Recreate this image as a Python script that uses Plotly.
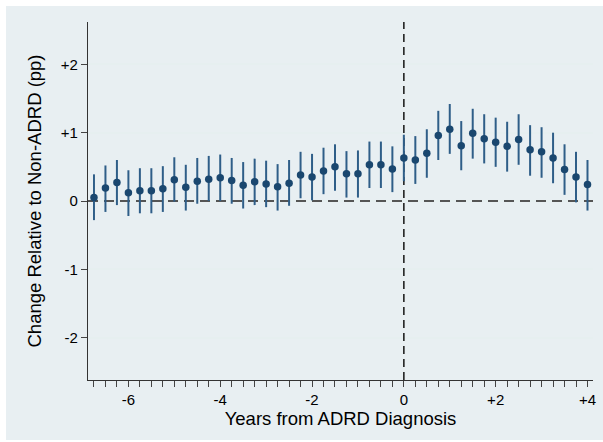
import plotly.graph_objects as go

# Data
years = [-6.75, -6.5, -6.25, -6.0, -5.75, -5.5, -5.25, -5.0, -4.75, -4.5, -4.25,
         -4.0, -3.75, -3.5, -3.25, -3.0, -2.75, -2.5, -2.25, -2.0, -1.75, -1.5,
         -1.25, -1.0, -0.75, -0.5, -0.25, 0.0, 0.25, 0.5, 0.75, 1.0, 1.25, 1.5,
         1.75, 2.0, 2.25, 2.5, 2.75, 3.0, 3.25, 3.5, 3.75, 4.0]
estimate = [0.05, 0.19, 0.27, 0.12, 0.15, 0.15, 0.18, 0.31, 0.20, 0.29, 0.32,
            0.34, 0.30, 0.23, 0.28, 0.25, 0.21, 0.26, 0.38, 0.35, 0.44, 0.50,
            0.40, 0.40, 0.53, 0.53, 0.47, 0.63, 0.60, 0.70, 0.96, 1.05, 0.81, 0.99,
            0.91, 0.86, 0.80, 0.90, 0.75, 0.72, 0.63, 0.46, 0.35, 0.24]
ci_upper = [0.39, 0.52, 0.60, 0.45, 0.48, 0.48, 0.51, 0.64, 0.53, 0.63, 0.66,
            0.68, 0.63, 0.57, 0.62, 0.59, 0.54, 0.60, 0.72, 0.69, 0.78, 0.83,
            0.73, 0.74, 0.87, 0.87, 0.80, 0.97, 0.95, 1.05, 1.32, 1.42, 1.17, 1.35,
            1.27, 1.22, 1.16, 1.27, 1.11, 1.08, 1.00, 0.83, 0.72, 0.60]
ci_lower = [-0.28, -0.16, -0.06, -0.22, -0.18, -0.18, -0.16, -0.01, -0.14, -0.04, 0.00,
            0.00, -0.04, -0.11, -0.06, -0.09, -0.14, -0.07, 0.04, 0.01, 0.10, 0.15,
            0.05, 0.05, 0.19, 0.19, 0.13, 0.29, 0.25, 0.34, 0.60, 0.69, 0.45, 0.62,
            0.55, 0.50, 0.43, 0.53, 0.37, 0.34, 0.26, 0.09, -0.02, -0.14]

x_tick_vals = [-6, -4, -2, 0, 2, 4]
x_tick_text = ["-6", "-4", "-2", "0", "+2", "+4"]
y_tick_vals = [-2, -1, 0, 1, 2]
y_tick_text = ["-2", "-1", "0", "+1", "+2"]

NAVY = "#1a476f"
BAR = "#2f5e88"
FONT = "Liberation Sans, Arial, sans-serif"
X_RANGE = [-6.88, 4.12]
Y_RANGE = [-2.62, 2.62]

err_plus = [u - e for u, e in zip(ci_upper, estimate)]
err_minus = [e - l for e, l in zip(estimate, ci_lower)]

fig = go.Figure()
fig.add_trace(go.Scatter(
    x=years, y=estimate, mode="markers",
    marker=dict(color=NAVY, size=7.5),
    error_y=dict(type="data", symmetric=False, array=err_plus, arrayminus=err_minus,
                 color=BAR, thickness=2, width=0),
    showlegend=False, hoverinfo="skip",
))

# plot-area geometry (px)
L, R, T, B = 88, 10, 22, 62
W, H = 603, 442
pw, ph = W - L - R, H - T - B

shapes = [
    # outer Stata-like graph region
    dict(type="rect", xref="paper", yref="paper",
         x0=(6 - L) / pw, x1=(W - L) / pw,
         y0=(T + ph - 440) / ph, y1=(T + ph - 6) / ph,
         fillcolor="#e8eff2", line=dict(width=0), layer="below"),
    # horizontal zero reference
    dict(type="line", xref="x", yref="y", x0=X_RANGE[0], x1=X_RANGE[1], y0=0, y1=0,
         line=dict(color="#555555", width=2, dash="10px,6px"), layer="between"),
    # vertical reference at diagnosis
    dict(type="line", xref="x", yref="y", x0=0, x1=0, y0=Y_RANGE[0], y1=Y_RANGE[1],
         line=dict(color="#222222", width=1.6, dash="8px,5px"), layer="between"),
]

fig.update_layout(
    width=W, height=H,
    margin=dict(l=L, r=R, t=T, b=B, autoexpand=False),
    paper_bgcolor="white", plot_bgcolor="white",
    font=dict(family=FONT, color="#000000", size=15),
    shapes=shapes,
    xaxis=dict(
        range=X_RANGE, tickvals=x_tick_vals, ticktext=x_tick_text,
        ticks="outside", ticklen=6, tickwidth=1, tickcolor="#444444",
        minor=dict(dtick=0.25, tick0=0, ticks="outside", ticklen=6, tickwidth=1,
                   tickcolor="#444444", showgrid=False),
        showline=True, linecolor="#333333", linewidth=1.2,
        showgrid=False, zeroline=False,
        tickfont=dict(size=15),
        title=dict(text="Years from ADRD Diagnosis", font=dict(size=18.5), standoff=2),
        automargin=False,
    ),
    yaxis=dict(
        range=Y_RANGE, tickvals=y_tick_vals, ticktext=y_tick_text,
        ticks="outside", ticklen=6, tickwidth=1, tickcolor="#444444",
        showline=True, linecolor="#333333", linewidth=1.2,
        showgrid=True, gridcolor="#e6eff0", gridwidth=1.5, zeroline=False,
        tickfont=dict(size=15),
        title=dict(text="Change Relative to Non-ADRD (pp)", font=dict(size=18.5), standoff=14),
        automargin=False,
    ),
)

fig.write_html("out.html")
